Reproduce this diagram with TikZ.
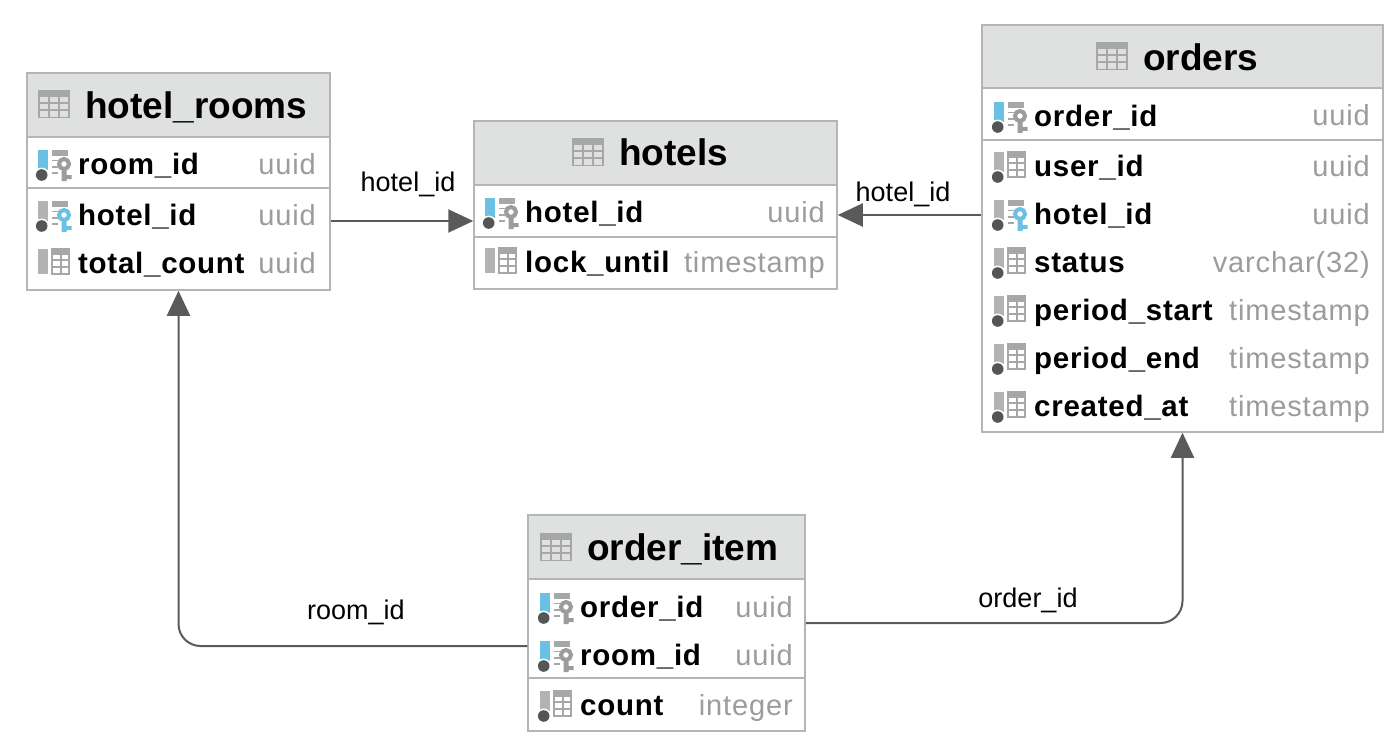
\documentclass[tikz,border=0pt]{standalone}
\usepackage{fontspec}
\setmainfont{Liberation Sans}
\newfontfamily\namefont[LetterSpace=2.5]{Liberation Sans}
\newfontfamily\typefont[LetterSpace=3]{Liberation Sans}
\usetikzlibrary{arrows.meta}
\definecolor{hdr}{HTML}{DFE1E0}
\definecolor{edge}{HTML}{B4B6B6}
\definecolor{typec}{HTML}{9C9C9C}
\definecolor{barblue}{HTML}{6CC0E4}
\definecolor{bargray}{HTML}{B2B4B4}
\definecolor{keygray}{HTML}{9C9C9C}
\definecolor{dotc}{HTML}{555555}
\definecolor{linkc}{HTML}{5A5A5A}
\definecolor{gridc}{HTML}{A6A8A8}
\tikzset{
  tablebox/.style={draw=edge,line width=1.5pt,fill=white,inner sep=0pt,rectangle},
  titletext/.style={anchor=base west,inner sep=0pt,font=\bfseries\fontsize{37}{42}\selectfont,text=black},
  rowname/.style={anchor=base west,inner sep=0pt,font=\namefont\bfseries\fontsize{29.5}{34}\selectfont,text=black},
  rowtype/.style={anchor=base east,inner sep=0pt,font=\typefont\fontsize{29}{34}\selectfont,text=typec},
  linklabel/.style={inner sep=0pt,font=\fontsize{27}{32}\selectfont,text=black},
  link/.style={draw=linkc,line width=2pt,-{Triangle[length=25pt,width=23pt]},rounded corners=22pt}
}
% name, x1, y1, x2, y2, header bottom, separator y
\newcommand{\erbox}[7]{%
  \node[tablebox,minimum width={#4pt-#2pt},minimum height={#5pt-#3pt}] (#1) at ({(#2+#4)/2},{(#3+#5)/2}) {};
  \fill[hdr] (#2,#3) rectangle (#4,#6);
  \draw[edge,line width=1.5pt] (#2,#3) rectangle (#4,#5);
  \draw[edge,line width=1.5pt] (#2,#6) -- (#4,#6);
  \draw[edge,line width=1.2pt] (#2,#7) -- (#4,#7);
}
% x left, y centre
\newcommand{\tblicon}[2]{%
  \begin{scope}[shift={(#1,#2)}]
    \fill[white!88!black] (0,-13.5) rectangle (30,13.5);
    \fill[gridc] (0,-13.5) rectangle (30,-7);
    \draw[gridc,line width=1.6pt] (0,-13.5) rectangle (30,13.5);
    \draw[gridc,line width=1.4pt] (0,-1) -- (30,-1) (0,6) -- (30,6) (10,-7) -- (10,13.5) (20,-7) -- (20,13.5);
  \end{scope}
}
% x left, y centre, bar colour, key colour (or n), bar bottom
\newcommand{\colicon}[5]{%
  \begin{scope}[shift={(#1,#2)}]
    \fill[#3] (0,-14) rectangle (10,#5);
    \ifx#4n\relax
      \fill[gridc] (14,-14) rectangle (31,-8);
      \draw[gridc,line width=1.2pt] (14,-14) rectangle (31,11) (14,-3) -- (31,-3) (14,4) -- (31,4) (23,-8) -- (23,11);
    \else
      \fill[gridc] (14,-14) rectangle (30,-8);
      \draw[gridc,line width=1.3pt] (14,-3.5) -- (20,-3.5) (14,3) -- (20,3) (14,9) -- (20,9);
      \draw[#4,line width=4pt] (26,0) circle (5);
      \fill[#4] (23.5,5) rectangle (28.5,17) (28,11) rectangle (33.5,15);
    \fi
  \end{scope}
}
\newcommand{\icondot}[2]{%
  \fill[white] (#1+3.7,#2+11) circle (7.4);
  \fill[dotc] (#1+3.7,#2+11) circle (5.8);
}
% id, x, y centre, text, right x, type
\newcommand{\errow}[6]{%
  \node[rowname] (#1n) at (#2,#3+10.5) {#4};
  \node[rowtype] (#1t) at (#5,#3+10) {#6};
}
\begin{document}
\begin{tikzpicture}[x=1pt,y=-1pt]
\useasboundingbox (0,0) rectangle (1400,741);
\fill[white] (0,0) rectangle (1400,741);

% hotel_rooms
\erbox{hrooms}{27}{73}{330}{290}{137}{188}
\tblicon{39}{104}
\node[titletext] (hroomst) at (85,118.5) {hotel\_rooms};
\colicon{38}{164}{barblue}{keygray}{6}\icondot{38}{164}
\errow{hra}{78}{164}{room\_id}{316}{uuid}
\colicon{38}{215}{bargray}{barblue}{6}\icondot{38}{215}
\errow{hrb}{78}{215}{hotel\_id}{316}{uuid}
\colicon{38}{263}{bargray}{n}{11}
\errow{hrc}{78}{263}{total\_count}{316}{uuid}

% hotels
\erbox{hotels}{474}{121}{837}{289}{185}{237}
\tblicon{573}{152}
\node[titletext] (hotelst) at (619,165.5) {hotels};
\colicon{485}{212}{barblue}{keygray}{6}\icondot{485}{212}
\errow{ha}{525}{212}{hotel\_id}{825}{uuid}
\colicon{485}{262}{bargray}{n}{11}
\errow{hb}{525}{262}{lock\_until}{825}{timestamp}

% orders
\erbox{orders}{982}{25}{1383}{432}{88}{140}
\tblicon{1097}{56}
\node[titletext] (orderst) at (1143,70.5) {orders};
\colicon{994}{116}{barblue}{keygray}{6}\icondot{994}{116}
\errow{oa}{1034}{116}{order\_id}{1370}{uuid}
\colicon{994}{166}{bargray}{n}{6}\icondot{994}{166}
\errow{ob}{1034}{166}{user\_id}{1370}{uuid}
\colicon{994}{214}{bargray}{barblue}{6}\icondot{994}{214}
\errow{oc}{1034}{214}{hotel\_id}{1370}{uuid}
\colicon{994}{262}{bargray}{n}{6}\icondot{994}{262}
\errow{od}{1034}{262}{status}{1370}{varchar(32)}
\colicon{994}{310}{bargray}{n}{6}\icondot{994}{310}
\errow{oe}{1034}{310}{period\_start}{1370}{timestamp}
\colicon{994}{358}{bargray}{n}{6}\icondot{994}{358}
\errow{of}{1034}{358}{period\_end}{1370}{timestamp}
\colicon{994}{406}{bargray}{n}{6}\icondot{994}{406}
\errow{og}{1034}{406}{created\_at}{1370}{timestamp}

% order_item
\erbox{oitem}{528}{515}{805}{731}{579}{678}
\tblicon{541}{547}
\node[titletext] (oitemt) at (587,560.5) {order\_item};
\colicon{540}{607}{barblue}{keygray}{6}\icondot{540}{607}
\errow{ia}{580}{607}{order\_id}{793}{uuid}
\colicon{540}{655}{barblue}{keygray}{6}\icondot{540}{655}
\errow{ib}{580}{655}{room\_id}{793}{uuid}
\colicon{540}{705}{bargray}{n}{6}\icondot{540}{705}
\errow{ic}{580}{705}{count}{793}{integer}

% connectors
\draw[link] ([yshift=-39.5pt]hrooms.east) -- ([yshift=-16pt]hotels.west);
\draw[link] ([yshift=13.5pt]orders.west) -- ([yshift=-10pt]hotels.east);
\draw[link] ([yshift=-23pt]oitem.west) -| (hrooms.south);
\draw[link] (oitem.east) -| (orders.south);

% connector labels
\node[linklabel] (l1) at (408,184) {hotel\_id};
\node[linklabel] (l2) at (903,194) {hotel\_id};
\node[linklabel] (l3) at (356,612) {room\_id};
\node[linklabel] (l4) at (1028,600) {order\_id};
\end{tikzpicture}
\end{document}
